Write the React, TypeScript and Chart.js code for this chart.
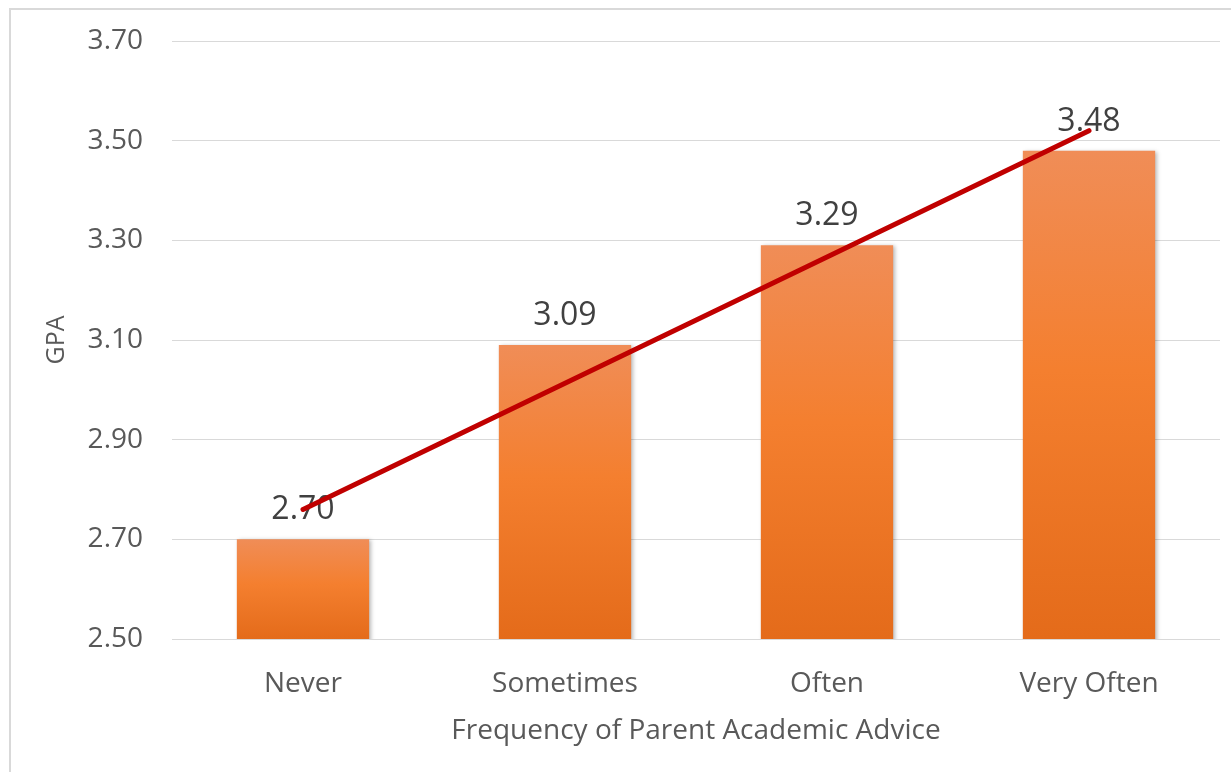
import React, { useEffect, useRef } from "react";
import { Chart, registerables } from "chart.js";

Chart.register(...registerables);

// Average GPA by how often parents give academic advice
const categories = ["Never", "Sometimes", "Often", "Very Often"];
const gpaValues = [2.7, 3.09, 3.29, 3.48];
// Linear trendline endpoints (first and last category)
const trendValues: (number | null)[] = [2.76, null, null, 3.52];
const yTickValues = [2.5, 2.7, 2.9, 3.1, 3.3, 3.5, 3.7];

const WIDTH = 1231;
const HEIGHT = 772;
const FONT = "'Open Sans', 'Noto Sans', sans-serif";
const AXIS_TEXT = "#595959";
const LABEL_TEXT = "#404040";
const GRID = "#d9d9d9";

const BAR_INDEX = 1;

// Soft drop shadow under the bars
const barShadow = {
  id: "barShadow",
  beforeDatasetDraw(chart: any, args: any) {
    if (args.index !== BAR_INDEX) return;
    const ctx = chart.ctx;
    ctx.save();
    ctx.shadowColor = "rgba(0,0,0,0.28)";
    ctx.shadowBlur = 4;
    ctx.shadowOffsetX = 2;
    ctx.shadowOffsetY = 1;
  },
  afterDatasetDraw(chart: any, args: any) {
    if (args.index !== BAR_INDEX) return;
    chart.ctx.restore();
  },
};

// Value labels above each bar (drawn before the trendline so it sits on top)
const barLabels = {
  id: "barLabels",
  afterDatasetDraw(chart: any, args: any) {
    if (args.index !== BAR_INDEX) return;
    const ctx = chart.ctx;
    ctx.save();
    ctx.font = `32px ${FONT}`;
    ctx.fillStyle = LABEL_TEXT;
    ctx.textAlign = "center";
    ctx.textBaseline = "alphabetic";
    args.meta.data.forEach((el: any, i: number) => {
      ctx.fillText(gpaValues[i].toFixed(2), el.x, el.y - 20);
    });
    ctx.restore();
  },
};

export default function App() {
  const canvasRef = useRef<HTMLCanvasElement | null>(null);

  useEffect(() => {
    const canvas = canvasRef.current;
    if (!canvas) return;
    const chart = new Chart(canvas, {
      type: "bar",
      data: {
        labels: categories,
        datasets: [
          {
            type: "line",
            label: "Trend",
            data: trendValues,
            borderColor: "#C00000",
            borderWidth: 5,
            borderCapStyle: "round",
            pointRadius: 0,
            spanGaps: true,
            fill: false,
          } as any,
          {
            type: "bar",
            label: "GPA",
            data: gpaValues,
            barPercentage: 0.505,
            categoryPercentage: 1,
            borderWidth: 0,
            backgroundColor: (ctx: any) => {
              const chart = ctx.chart;
              const area = chart.chartArea;
              if (!area || ctx.type !== "data") return "#F47F2F";
              const top = chart.scales.y.getPixelForValue(ctx.raw);
              const g = chart.ctx.createLinearGradient(0, top, 0, area.bottom);
              g.addColorStop(0, "#F08D57");
              g.addColorStop(0.45, "#F47F2F");
              g.addColorStop(1, "#E46B1A");
              return g;
            },
          },
        ],
      },
      options: {
        responsive: false,
        animation: false,
        devicePixelRatio: 1,
        layout: { padding: { top: 41, right: 11, bottom: 0, left: 0 } },
        plugins: {
          legend: { display: false },
          tooltip: { enabled: false },
        },
        scales: {
          x: {
            grid: { display: false, drawTicks: false },
            border: { display: false },
            ticks: {
              color: AXIS_TEXT,
              font: { family: FONT, size: 28 },
              padding: 28,
            },
            title: {
              display: true,
              text: "Frequency of Parent Academic Advice",
              color: AXIS_TEXT,
              font: { family: FONT, size: 28 },
              padding: { top: 24, bottom: 24 },
            },
            afterFit: (scale: any) => {
              scale.height = HEIGHT - 639;
            },
          },
          y: {
            min: 2.5,
            max: 3.7,
            grid: { color: GRID, lineWidth: 1, drawTicks: false },
            border: { display: false },
            afterBuildTicks: (scale: any) => {
              scale.ticks = yTickValues.map((v) => ({ value: v }));
            },
            ticks: {
              color: AXIS_TEXT,
              font: { family: FONT, size: 28 },
              padding: 29,
              callback: (v: any) => Number(v).toFixed(2),
            },
            title: {
              display: true,
              text: "GPA",
              color: AXIS_TEXT,
              font: { family: FONT, size: 25 },
              padding: { top: 42, bottom: 42 },
            },
            afterFit: (scale: any) => {
              scale.width = 172;
              scale.paddingTop = 0;
              scale.paddingBottom = 0;
            },
          },
        },
      },
      plugins: [barShadow, barLabels],
    });
    return () => chart.destroy();
  }, []);

  return (
    <div
      style={{
        position: "fixed",
        left: 0,
        top: 0,
        width: WIDTH,
        height: HEIGHT,
        background: "#ffffff",
        overflow: "hidden",
      }}
    >
      <div
        style={{
          position: "absolute",
          left: 9,
          top: 8,
          width: WIDTH,
          height: HEIGHT,
          borderLeft: "2px solid #d9d9d9",
          borderTop: "2px solid #d9d9d9",
        }}
      />
      <canvas
        ref={canvasRef}
        width={WIDTH}
        height={HEIGHT}
        style={{ position: "absolute", left: 0, top: 0, display: "block" }}
      />
    </div>
  );
}
